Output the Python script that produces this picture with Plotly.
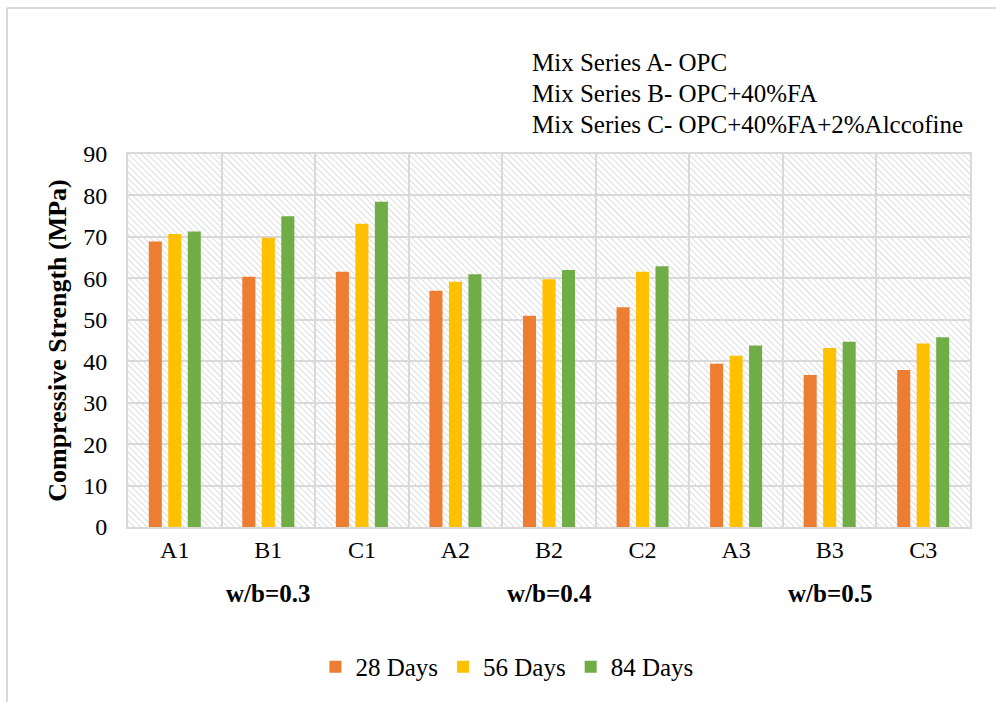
import base64
import plotly.graph_objects as go

categories = ["A1", "B1", "C1", "A2", "B2", "C2", "A3", "B3", "C3"]
days28 = [68.9, 60.4, 61.6, 57.0, 51.0, 53.0, 39.4, 36.7, 37.9]
days56 = [70.7, 69.8, 73.2, 59.2, 59.8, 61.6, 41.3, 43.2, 44.3]
days84 = [71.3, 75.0, 78.5, 61.0, 62.0, 62.9, 43.8, 44.7, 45.8]
series_names = ["28 Days", "56 Days", "84 Days"]
series_colors = ["#ED7D31", "#FFC000", "#70AD47"]
group_labels = ["w/b=0.3", "w/b=0.4", "w/b=0.5"]
group_centers = ["B1", "B2", "B3"]
note_lines = ["Mix Series A- OPC", "Mix Series B- OPC+40%FA",
              "Mix Series C- OPC+40%FA+2%Alccofine"]

FONT = "Times New Roman, Liberation Serif, serif"
GRID = "#d9d9d9"

fig = go.Figure()
for name, vals, col in zip(series_names, [days28, days56, days84], series_colors):
    fig.add_trace(go.Bar(x=categories, y=vals, name=name, marker_color=col,
                         marker_line_width=0))

# hatch background image
W, H = 842, 373
svg = (f"<svg xmlns='http://www.w3.org/2000/svg' width='{W}' height='{H}' "
       f"viewBox='0 0 {W} {H}' preserveAspectRatio='none'>"
       "<defs><pattern id='p' width='4.4' height='4.4' patternUnits='userSpaceOnUse' "
       "patternTransform='rotate(-45)'>"
       "<line x1='0' y1='0' x2='0' y2='4.4' stroke='#cfcfcf' stroke-width='1.4'/>"
       "</pattern></defs>"
       f"<rect width='{W}' height='{H}' fill='white'/>"
       f"<rect width='{W}' height='{H}' fill='url(#p)'/></svg>")
src = "data:image/svg+xml;base64," + base64.b64encode(svg.encode()).decode()
fig.add_layout_image(dict(source=src, xref="x domain", yref="y domain", x=0, y=1,
                          sizex=1, sizey=1, sizing="stretch", xanchor="left",
                          yanchor="top", layer="below"))

annotations = []
for lab, c in zip(group_labels, group_centers):
    annotations.append(dict(x=c, xref="x", y=-0.177, yref="paper", text=f"<b>{lab}</b>",
                            showarrow=False, font=dict(family=FONT, size=25, color="black"),
                            xanchor="center", yanchor="middle"))
for i, line in enumerate(note_lines):
    annotations.append(dict(x=0.4774, xref="paper", y=[1.2466, 1.161, 1.078][i], yref="paper",
                            text=line, showarrow=False, xanchor="left", yanchor="middle",
                            font=dict(family=FONT, size=25, color="black")))
annotations.append(dict(x=-0.084, xref="paper", y=0.5, yref="paper",
                        text="<b>Compressive Strength (MPa)</b>", textangle=-90,
                        showarrow=False, xanchor="center", yanchor="middle",
                        font=dict(family=FONT, size=26, color="black")))

fig.update_layout(
    width=996, height=702,
    margin=dict(l=128, r=26, t=154, b=175),
    paper_bgcolor="white", plot_bgcolor="rgba(0,0,0,0)",
    barmode="group", bargap=0.375, bargroupgap=0.33,
    font=dict(family=FONT, size=24, color="black"),
    legend=dict(orientation="h", x=0.45, xanchor="center", y=-0.375, yanchor="middle",
                font=dict(family=FONT, size=25, color="black"),
                itemwidth=30, traceorder="normal"),
    annotations=annotations,
    shapes=[
        dict(type="line", xref="paper", yref="paper", x0=(7 - 128) / 842, x1=(996 - 128) / 842,
             y0=(527 - 8) / 373, y1=(527 - 8) / 373, line=dict(color=GRID, width=2)),
        dict(type="line", xref="paper", yref="paper", x0=(7 - 128) / 842, x1=(7 - 128) / 842,
             y0=(527 - 8) / 373, y1=(527 - 702) / 373, line=dict(color=GRID, width=2)),
    ],
)
fig.update_xaxes(type="category", tickson="boundaries", showgrid=True, gridcolor=GRID,
                 gridwidth=2, showline=True, linecolor=GRID, linewidth=2, mirror=True,
                 ticks="outside", ticklen=14, tickcolor="rgba(0,0,0,0)",
                 tickfont=dict(family=FONT, size=24, color="black"))
fig.update_yaxes(range=[0, 90], dtick=10, showgrid=True, gridcolor=GRID, gridwidth=2,
                 showline=True, linecolor=GRID, linewidth=2, mirror=True,
                 zeroline=False, ticks="outside", ticklen=14, tickcolor="rgba(0,0,0,0)",
                 tickfont=dict(family=FONT, size=24, color="black"))

fig.write_html("out.html")
